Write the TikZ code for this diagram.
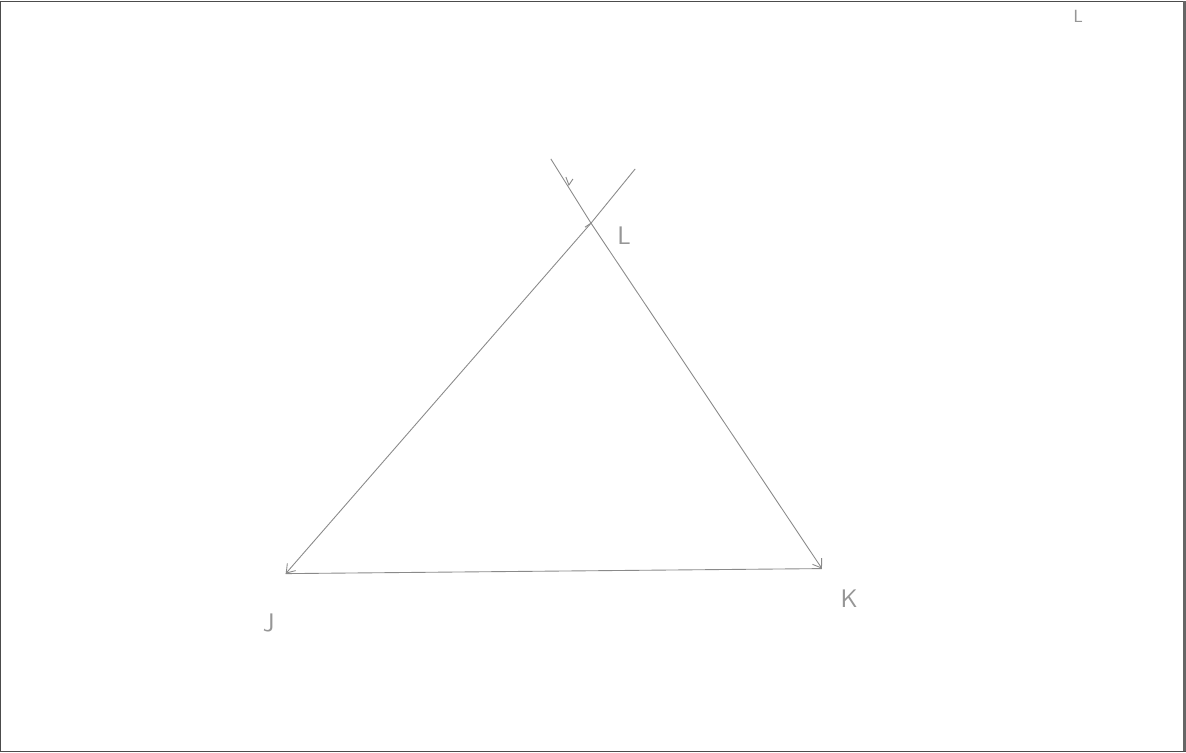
\documentclass[tikz,border=0pt]{standalone}
\usepackage{tikz}
\usetikzlibrary{arrows.meta, positioning}
\definecolor{pencil}{HTML}{8a8a8a}
\tikzset{
  side/.style={draw=pencil, line width=0.5pt},
  arrow/.style={-{Straight Barb[length=1.6mm, width=2.2mm]}, draw=pencil, line width=0.5pt},
  label/.style={text=pencil!90, font=\sffamily\Large, inner sep=0pt},
}

\begin{document}
\begin{tikzpicture}[x=0.02cm, y=-0.02cm]

  \draw [draw=black!70, line width=0.6pt] (3,3) rectangle (1183,750);
  \draw [draw=black!60, line width=1.4pt] (1182,3) -- (1182,750);

  \coordinate (J) at (287,573);
  \coordinate (K) at (821,568);
  \coordinate (L) at (591,224);
  \coordinate (topA) at (551,160);
  \coordinate (topB) at (635,170);

  \node (lJ) [label] at (270,622) {J};
  \node (lK) [label] at (848,598) {K};
  \node (lL) [label] at (624,236) {L};
  \node (lL2) [label, font=\sffamily\normalsize] at (1076,18) {L};

  \draw [side] (topA) -- (L) (L) -- (topB) (J) -- (K);
  \draw [arrow] (L) -- (J);
  \draw [arrow] (L) -- (K);
  \draw [side] (566,178) -- (569,186) -- (573,180);
  \draw [side] (585,228) -- (591,224);

\end{tikzpicture}
\end{document}
